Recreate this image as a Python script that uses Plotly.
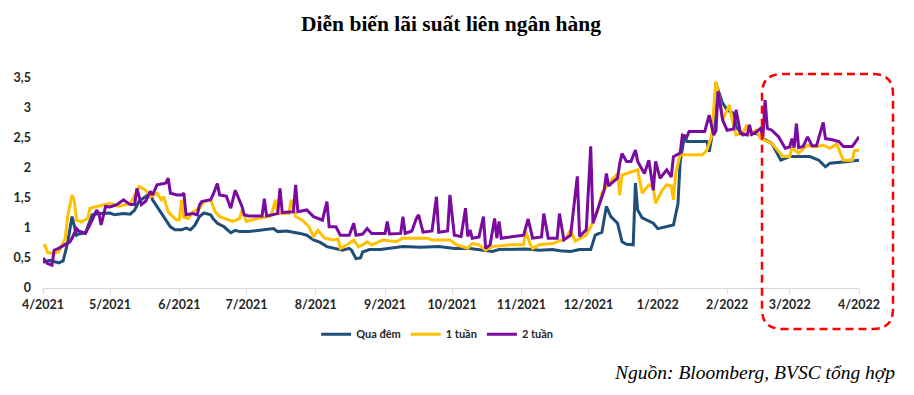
import plotly.graph_objects as go

# ---------------- data ----------------
qua_dem_dates = ["2021-04-01","2021-04-04","2021-04-06","2021-04-08","2021-04-10","2021-04-12","2021-04-14","2021-04-16","2021-04-17","2021-04-20",
"2021-04-23","2021-04-26","2021-05-01","2021-05-03","2021-05-07","2021-05-10","2021-05-12","2021-05-14","2021-05-16","2021-05-19",
"2021-05-20","2021-05-23","2021-05-25","2021-05-28","2021-05-30","2021-06-02","2021-06-04","2021-06-06","2021-06-08","2021-06-10",
"2021-06-12","2021-06-15","2021-06-16","2021-06-18","2021-06-21","2021-06-24","2021-06-26","2021-06-28","2021-07-02","2021-07-07",
"2021-07-11","2021-07-13","2021-07-15","2021-07-19","2021-07-25","2021-07-28","2021-07-31","2021-08-03","2021-08-06","2021-08-09",
"2021-08-13","2021-08-16","2021-08-17","2021-08-19","2021-08-21","2021-08-22","2021-08-25","2021-08-30","2021-09-04","2021-09-09",
"2021-09-17","2021-09-25","2021-10-02","2021-10-09","2021-10-15","2021-10-19","2021-10-22","2021-10-29","2021-11-03","2021-11-09",
"2021-11-15","2021-11-18","2021-11-23","2021-11-27","2021-12-02","2021-12-04","2021-12-07","2021-12-09","2021-12-11","2021-12-14",
"2021-12-16","2021-12-18","2021-12-21","2021-12-22","2021-12-23","2021-12-25","2021-12-30","2022-01-01","2022-01-05","2022-01-08",
"2022-01-10","2022-01-11","2022-01-13","2022-01-14","2022-01-23","2022-01-24","2022-01-26","2022-01-27","2022-01-30","2022-02-01",
"2022-02-04","2022-02-05","2022-02-08","2022-02-14","2022-02-17","2022-02-21","2022-02-25","2022-03-01","2022-03-10","2022-03-14",
"2022-03-17","2022-03-19","2022-03-27","2022-04-01"]
qua_dem_values = [0.43,0.46,0.44,0.42,0.45,0.75,1.19,0.88,0.90,0.92,
1.22,1.24,1.25,1.22,1.24,1.23,1.30,1.45,1.50,1.58,
1.47,1.30,1.20,1.02,0.97,0.97,1.00,0.97,1.05,1.19,
1.25,1.22,1.16,1.08,1.02,0.92,0.96,0.94,0.94,0.96,
0.97,0.99,0.94,0.95,0.91,0.88,0.80,0.76,0.69,0.66,
0.63,0.66,0.63,0.49,0.50,0.60,0.64,0.64,0.66,0.69,
0.68,0.69,0.66,0.66,0.63,0.61,0.64,0.64,0.65,0.63,
0.64,0.62,0.61,0.64,0.64,0.88,0.93,1.36,1.19,1.08,
0.77,0.73,0.72,1.75,1.30,1.17,1.08,0.99,1.02,1.05,
1.40,2.10,2.55,2.44,2.44,2.27,2.69,3.41,3.08,2.97,
2.91,2.69,2.55,2.58,2.49,2.41,2.13,2.19,2.19,2.13,
2.02,2.08,2.11,2.13]

mot_tuan_dates = ["2021-04-01","2021-04-02","2021-04-03","2021-04-06","2021-04-08","2021-04-11","2021-04-12","2021-04-14","2021-04-15","2021-04-16",
"2021-04-18","2021-04-21","2021-04-22","2021-04-26","2021-05-01","2021-05-05","2021-05-10","2021-05-11","2021-05-14","2021-05-17",
"2021-05-19","2021-05-22","2021-05-24","2021-05-25","2021-05-27","2021-05-29","2021-05-31","2021-06-01","2021-06-02","2021-06-03",
"2021-06-05","2021-06-07","2021-06-10","2021-06-12","2021-06-15","2021-06-17","2021-06-19","2021-06-25","2021-06-28","2021-06-29",
"2021-07-01","2021-07-06","2021-07-10","2021-07-12","2021-07-14","2021-07-15","2021-07-20","2021-07-21","2021-07-23","2021-07-26",
"2021-07-29","2021-07-31","2021-08-02","2021-08-05","2021-08-09","2021-08-11","2021-08-12","2021-08-15","2021-08-18","2021-08-20",
"2021-08-22","2021-08-24","2021-08-26","2021-08-31","2021-09-06","2021-09-09","2021-09-20","2021-09-22","2021-09-30","2021-10-03",
"2021-10-08","2021-10-10","2021-10-13","2021-10-16","2021-10-19","2021-10-27","2021-11-02","2021-11-03","2021-11-05","2021-11-06",
"2021-11-09","2021-11-15","2021-11-21","2021-11-23","2021-11-25","2021-11-30","2021-12-02","2021-12-05","2021-12-07","2021-12-10",
"2021-12-14","2021-12-15","2021-12-16","2021-12-21","2021-12-23","2021-12-25","2021-12-28","2021-12-30","2021-12-31","2022-01-03",
"2022-01-05","2022-01-07","2022-01-08","2022-01-09","2022-01-11","2022-01-21","2022-01-23","2022-01-25","2022-01-27","2022-01-29",
"2022-01-30","2022-02-02","2022-02-03","2022-02-05","2022-02-08","2022-02-10","2022-02-11","2022-02-14","2022-02-16","2022-02-21",
"2022-02-26","2022-03-01","2022-03-02","2022-03-05","2022-03-09","2022-03-12","2022-03-16","2022-03-19","2022-03-22","2022-03-25",
"2022-03-29","2022-03-30","2022-04-01"]
mot_tuan_values = [0.70,0.71,0.59,0.58,0.60,0.83,1.19,1.55,1.45,1.13,
1.10,1.16,1.33,1.36,1.41,1.36,1.41,1.47,1.69,1.63,
1.52,1.58,1.47,1.52,1.27,1.19,1.13,1.14,1.47,1.18,
1.16,1.27,1.33,1.44,1.47,1.27,1.19,1.11,1.16,1.30,
1.11,1.16,1.19,1.20,1.47,1.24,1.24,1.47,1.19,1.13,
1.02,0.86,0.96,0.83,0.80,0.82,0.66,0.72,0.80,0.69,
0.72,0.77,0.72,0.80,0.77,0.83,0.83,0.80,0.80,0.72,
0.66,0.74,0.72,0.63,0.69,0.72,0.72,0.94,0.72,0.66,
0.72,0.74,0.83,0.97,0.78,0.88,1.02,1.27,1.58,1.74,
1.91,1.55,1.88,1.94,1.97,1.58,1.72,1.68,1.41,1.63,
1.72,1.70,1.47,1.91,2.22,2.22,2.30,2.52,3.44,3.08,
2.80,3.05,2.86,2.55,2.58,2.72,2.56,2.63,2.49,2.41,
2.19,2.19,2.33,2.25,2.38,2.35,2.38,2.33,2.40,2.13,
2.13,2.29,2.30]

hai_tuan_dates = ["2021-04-01","2021-04-03","2021-04-05","2021-04-06","2021-04-08","2021-04-13","2021-04-14","2021-04-16","2021-04-17","2021-04-20",
"2021-04-23","2021-04-25","2021-04-26","2021-04-27","2021-04-29","2021-05-01","2021-05-04","2021-05-07","2021-05-10","2021-05-12",
"2021-05-13","2021-05-15","2021-05-17","2021-05-19","2021-05-20","2021-05-22","2021-05-25","2021-05-26","2021-05-27","2021-05-28",
"2021-05-31","2021-06-02","2021-06-03","2021-06-04","2021-06-07","2021-06-09","2021-06-10","2021-06-11","2021-06-15","2021-06-16",
"2021-06-18","2021-06-19","2021-06-22","2021-06-24","2021-06-26","2021-06-29","2021-06-30","2021-07-02","2021-07-08","2021-07-09",
"2021-07-10","2021-07-15","2021-07-16","2021-07-17","2021-07-22","2021-07-23","2021-07-24","2021-07-28","2021-07-31","2021-08-04",
"2021-08-06","2021-08-07","2021-08-10","2021-08-12","2021-08-16","2021-08-18","2021-08-19","2021-08-22","2021-08-24","2021-08-26",
"2021-09-01","2021-09-02","2021-09-03","2021-09-08","2021-09-09","2021-09-10","2021-09-13","2021-09-15","2021-09-16","2021-09-18",
"2021-09-22","2021-09-24","2021-09-25","2021-09-29","2021-09-30","2021-10-02","2021-10-05","2021-10-07","2021-10-08","2021-10-09",
"2021-10-10","2021-10-13","2021-10-15","2021-10-16","2021-10-18","2021-10-20","2021-10-21","2021-10-22","2021-10-23","2021-10-28",
"2021-11-02","2021-11-04","2021-11-06","2021-11-10","2021-11-11","2021-11-13","2021-11-17","2021-11-18","2021-11-20","2021-11-23",
"2021-11-26","2021-11-27","2021-11-30","2021-12-02","2021-12-03","2021-12-06","2021-12-08","2021-12-09","2021-12-10","2021-12-12",
"2021-12-14","2021-12-15","2021-12-16","2021-12-18","2021-12-20","2021-12-22","2021-12-23","2021-12-26","2021-12-28","2021-12-30",
"2021-12-31","2022-01-02","2022-01-05","2022-01-07","2022-01-08","2022-01-11","2022-01-12","2022-01-14","2022-01-15","2022-01-22",
"2022-01-24","2022-01-26","2022-01-27","2022-01-28","2022-01-30","2022-02-01","2022-02-04","2022-02-05","2022-02-07","2022-02-10",
"2022-02-11","2022-02-12","2022-02-14","2022-02-16","2022-02-17","2022-02-18","2022-02-19","2022-02-21","2022-02-24","2022-02-27",
"2022-03-01","2022-03-02","2022-03-03","2022-03-04","2022-03-05","2022-03-07","2022-03-09","2022-03-11","2022-03-13","2022-03-16",
"2022-03-17","2022-03-20","2022-03-23","2022-03-25","2022-03-29","2022-04-01"]
hai_tuan_values = [0.50,0.41,0.38,0.63,0.66,0.77,0.83,0.99,0.95,0.91,
1.13,1.30,1.24,1.05,1.36,1.35,1.39,1.47,1.39,1.39,
1.66,1.39,1.45,1.61,1.55,1.72,1.74,1.75,1.83,1.58,
1.55,1.55,1.58,1.22,1.24,1.22,1.38,1.44,1.47,1.55,
1.74,1.55,1.53,1.33,1.63,1.36,1.22,1.20,1.20,1.49,
1.20,1.24,1.66,1.26,1.27,1.72,1.27,1.30,1.19,1.13,
1.44,1.02,1.02,0.88,0.88,1.08,0.88,0.90,0.99,0.91,
0.91,1.11,0.90,0.91,1.19,0.91,0.95,1.16,1.22,0.93,
0.95,1.52,0.93,0.95,1.55,0.88,0.86,1.33,0.86,0.97,
0.83,0.85,1.19,0.66,0.72,1.16,0.83,1.11,0.83,0.85,
0.88,1.15,0.83,0.85,1.24,0.83,0.83,1.24,0.80,0.88,
1.86,0.86,0.97,2.36,1.08,1.41,1.63,1.91,1.70,1.77,
1.83,2.08,2.24,2.11,2.11,2.30,2.11,1.91,2.13,1.63,
2.11,1.83,1.97,1.85,2.19,2.25,2.55,2.52,2.61,2.61,
2.88,2.55,2.62,3.28,2.80,2.63,2.65,2.97,2.58,2.55,
2.72,2.56,2.60,2.66,2.52,3.13,2.66,2.63,2.52,2.33,
2.35,2.49,2.34,2.74,2.34,2.36,2.52,2.37,2.37,2.76,
2.49,2.47,2.44,2.36,2.36,2.52]

series_names = ["Qua đêm", "1 tuần", "2 tuần"]
series_colors = ["#1F4E79", "#FFC000", "#7A0AA0"]
y_tick_values = [0, 0.5, 1, 1.5, 2, 2.5, 3, 3.5]
y_tick_labels = ["0", "0,5", "1", "1,5", "2", "2,5", "3", "3,5"]

title_text = "Diễn biến lãi suất liên ngân hàng"
source_text = "Nguồn: Bloomberg, BVSC tổng hợp"

# ---------------- figure ----------------
fig = go.Figure()
all_dates = [qua_dem_dates, mot_tuan_dates, hai_tuan_dates]
all_values = [qua_dem_values, mot_tuan_values, hai_tuan_values]
for name, color, xs, ys in zip(series_names, series_colors, all_dates, all_values):
    fig.add_trace(go.Scatter(x=xs, y=ys, mode="lines", name=name,
                             line=dict(color=color, width=3)))

tick_font = dict(family="Lato, Carlito, Arial, sans-serif", size=12.5, color="#262626", weight="bold")

fig.update_layout(
    width=914, height=395,
    margin=dict(l=43, r=55, t=78, b=107, autoexpand=False),
    paper_bgcolor="white", plot_bgcolor="white",
    title=dict(text=title_text, x=0.5, xref="paper", xanchor="center",
               y=1 - 23/395, yanchor="middle",
               font=dict(family="Liberation Serif, Times New Roman, serif", size=21.5,
                         color="black", weight="bold")),
    showlegend=True,
    legend=dict(orientation="h", x=0.483, xanchor="center", y=-0.22, yanchor="middle",
                font=dict(family="Lato, Carlito, Arial, sans-serif", size=11,
                          color="#262626", weight="bold"),
                itemwidth=30, tracegroupgap=0, bgcolor="rgba(0,0,0,0)"),
    xaxis=dict(type="date", range=["2021-04-01", "2022-04-01"],
               tick0="2021-04-01", dtick="M1", tickformat="%-m/%Y",
               showgrid=False, zeroline=False,
               showline=True, linecolor="#D9D9D9", linewidth=1,
               ticks="outside", ticklen=5, tickcolor="#D9D9D9",
               tickfont=tick_font),
    yaxis=dict(range=[0, 3.5], tickvals=y_tick_values, ticktext=y_tick_labels,
               showgrid=False, zeroline=False, showline=False, ticks="",
               ticklabelstandoff=11, tickfont=tick_font),
)

# red dashed rounded rectangle highlight
L, R, T, B = (762 - 43) / 816, (893 - 43) / 816, (288 - 74) / 210, (288 - 329) / 210
rx, ry = 20 / 816, 20 / 210
path = (f"M {L+rx},{T} L {R-rx},{T} Q {R},{T} {R},{T-ry} L {R},{B+ry} "
        f"Q {R},{B} {R-rx},{B} L {L+rx},{B} Q {L},{B} {L},{B+ry} "
        f"L {L},{T-ry} Q {L},{T} {L+rx},{T} Z")
fig.add_shape(type="path", path=path, xref="paper", yref="paper",
              line=dict(color="#FF0000", width=2.5, dash="8px,5px"),
              fillcolor="rgba(0,0,0,0)", layer="above")

fig.add_annotation(text=source_text, xref="paper", yref="paper",
                   x=(897 - 43) / 816, y=(288 - 372) / 210,
                   xanchor="right", yanchor="middle", showarrow=False,
                   font=dict(family="Liberation Serif, Times New Roman, serif", size=19.5,
                             color="black", style="italic"))

fig.write_html("out.html", config={"displayModeBar": False},
               post_script="document.body.style.margin='0';document.body.style.overflow='hidden';")
